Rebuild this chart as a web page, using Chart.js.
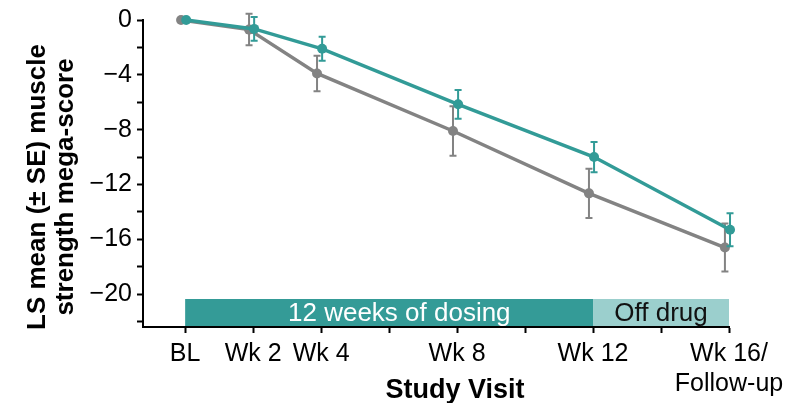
<!DOCTYPE html>
<html>
<head>
<meta charset="utf-8">
<script src="https://cdn.jsdelivr.net/npm/chart.js@4.4.1/dist/chart.umd.min.js"></script>
<style>
  html, body { margin: 0; padding: 0; background: #ffffff; }
  #wrap { width: 797px; height: 403px; }
</style>
</head>
<body>
<div id="wrap"><canvas id="chart" width="797" height="403"></canvas></div>
<script>
// Study visits (weeks from baseline)
const visitWeeks = [0, 2, 4, 8, 12, 16];

// LS mean change in muscle strength mega-score, with standard errors
const drugMean = [0, -0.65, -2.1, -6.15, -10.0, -15.3];
const drugSE = [0, 0.87, 0.88, 1.05, 1.1, 1.2];
const placeboMean = [0, -0.7, -3.9, -8.1, -12.65, -16.6];
const placeboSE = [0, 1.15, 1.3, 1.8, 1.8, 1.75];

// Axis ticks
const xTickValues = [0, 2, 4, 6, 8, 10, 12, 14, 16];
const xTickLabels = ['BL', 'Wk 2', 'Wk 4', '', 'Wk 8', '', 'Wk 12', '', ['Wk 16/', 'Follow-up']];
const yTickValues = [0, -2, -4, -6, -8, -10, -12, -14, -16, -18, -20, -22];
const yTickLabels = ['0', '', '\u22124', '', '\u22128', '', '\u221212', '', '\u221216', '', '\u221220', ''];

// Treatment phases shown along the bottom of the plot
const phaseStart = [0, 12];
const phaseEnd = [12, 16];
const phaseLabels = ['12 weeks of dosing', 'Off drug'];
const phaseLabelAt = [6.3, 14];

const TEAL = '#329b97';
const GREY = '#838383';
const PHASE_FILL = ['#349b97', '#9bcfcd'];
const PHASE_TEXT = ['#ffffff', '#111111'];
const FONT = "'Liberation Sans', Arial, Helvetica, sans-serif";

// small horizontal dodge so the two series don't sit on top of each other
const DRUG_SHIFT = 0.03;
const PLACEBO_SHIFT = -0.12;

function toPoints(means, shift) {
  return visitWeeks.map((w, i) => ({ x: w + shift, y: means[i] }));
}

const errorBars = {
  id: 'errorBars',
  beforeDatasetDraw(chart, args) {
    const ds = chart.data.datasets[args.index];
    const se = ds.se;
    if (!se) return;
    const meta = args.meta;
    const yScale = chart.scales.y;
    const ctx = chart.ctx;
    ctx.save();
    ctx.strokeStyle = ds.borderColor;
    ctx.lineWidth = 2;
    const cap = 3.5;
    meta.data.forEach((pt, i) => {
      if (!se[i]) return;
      const m = ds.data[i].y;
      const yTop = yScale.getPixelForValue(m + se[i]);
      const yBot = yScale.getPixelForValue(m - se[i]);
      ctx.beginPath();
      ctx.moveTo(pt.x, yTop);
      ctx.lineTo(pt.x, yBot);
      ctx.moveTo(pt.x - cap, yTop);
      ctx.lineTo(pt.x + cap, yTop);
      ctx.moveTo(pt.x - cap, yBot);
      ctx.lineTo(pt.x + cap, yBot);
      ctx.stroke();
    });
    ctx.restore();
  }
};

const phaseBands = {
  id: 'phaseBands',
  beforeDatasetsDraw(chart) {
    const ctx = chart.ctx;
    const xs = chart.scales.x;
    const area = chart.chartArea;
    const bandBottom = area.bottom - 1;
    const bandTop = area.bottom - 28;
    ctx.save();
    phaseLabels.forEach((label, i) => {
      const x0 = xs.getPixelForValue(phaseStart[i]);
      const x1 = xs.getPixelForValue(phaseEnd[i]);
      ctx.fillStyle = PHASE_FILL[i];
      ctx.fillRect(x0, bandTop, x1 - x0, bandBottom - bandTop);
      ctx.fillStyle = PHASE_TEXT[i];
      ctx.font = '26px ' + FONT;
      ctx.textAlign = 'center';
      ctx.textBaseline = 'alphabetic';
      ctx.fillText(label, xs.getPixelForValue(phaseLabelAt[i]), bandBottom - 5);
    });
    ctx.restore();
  }
};

const axisTitles = {
  id: 'axisTitles',
  afterDraw(chart) {
    const ctx = chart.ctx;
    ctx.save();
    ctx.fillStyle = '#000000';
    ctx.font = 'bold 26px ' + FONT;
    ctx.textAlign = 'center';
    ctx.textBaseline = 'middle';
    const cy = 187;
    [['LS mean (\u00b1 SE) muscle', 38], ['strength mega-score', 66]].forEach(([txt, cx]) => {
      ctx.save();
      ctx.translate(cx, cy);
      ctx.rotate(-Math.PI / 2);
      ctx.fillText(txt, 0, 0);
      ctx.restore();
    });
    ctx.font = 'bold 27px ' + FONT;
    ctx.textBaseline = 'alphabetic';
    ctx.fillText('Study Visit', 455, 398);
    ctx.restore();
  }
};

new Chart(document.getElementById('chart'), {
  type: 'scatter',
  data: {
    datasets: [
      {
        label: 'Drug',
        data: toPoints(drugMean, DRUG_SHIFT),
        se: drugSE,
        showLine: true,
        borderColor: TEAL,
        backgroundColor: TEAL,
        borderWidth: 3.5,
        pointRadius: 5,
        pointBorderWidth: 0,
        tension: 0,
        clip: false
      },
      {
        label: 'Placebo',
        data: toPoints(placeboMean, PLACEBO_SHIFT),
        se: placeboSE,
        showLine: true,
        borderColor: GREY,
        backgroundColor: GREY,
        borderWidth: 3.5,
        pointRadius: 5,
        pointBorderWidth: 0,
        tension: 0,
        clip: false
      }
    ]
  },
  options: {
    responsive: false,
    animation: false,
    layout: { padding: { left: 0, right: 68, top: 19, bottom: 0 } },
    plugins: {
      legend: { display: false },
      tooltip: { enabled: false },
      title: { display: false }
    },
    scales: {
      x: {
        type: 'linear',
        min: -1.24,
        max: 16,
        afterBuildTicks(scale) {
          scale.ticks = xTickValues.map(v => ({ value: v }));
        },
        afterFit(scale) { scale.height = 76; },
        grid: {
          display: true,
          drawOnChartArea: false,
          drawTicks: true,
          tickLength: 6,
          tickWidth: 2,
          tickColor: '#000000'
        },
        border: { display: true, color: '#000000', width: 2 },
        ticks: {
          autoSkip: false,
          maxRotation: 0,
          padding: 6,
          color: '#000000',
          font: { family: FONT, size: 25 },
          callback(value) {
            const i = xTickValues.indexOf(value);
            return i >= 0 ? xTickLabels[i] : '';
          }
        }
      },
      y: {
        type: 'linear',
        min: -22.4,
        max: 0,
        afterBuildTicks(scale) {
          scale.ticks = yTickValues.map(v => ({ value: v }));
        },
        afterFit(scale) { scale.width = 143; },
        grid: {
          display: true,
          drawOnChartArea: false,
          drawTicks: true,
          tickLength: 6,
          tickWidth: 2,
          tickColor: '#000000'
        },
        border: { display: true, color: '#000000', width: 2 },
        ticks: {
          autoSkip: false,
          padding: 5,
          color: '#000000',
          font: { family: FONT, size: 25 },
          callback(value) {
            const i = yTickValues.indexOf(value);
            return i >= 0 ? yTickLabels[i] : '';
          }
        }
      }
    }
  },
  plugins: [phaseBands, errorBars, axisTitles]
});
</script>
</body>
</html>
